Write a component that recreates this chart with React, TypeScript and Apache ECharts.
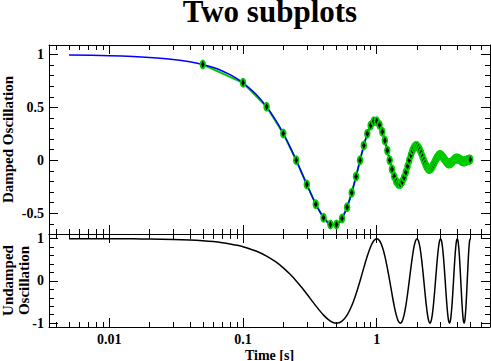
import React, { useEffect, useRef } from 'react';
import * as echarts from 'echarts';

const TITLE = 'Two subplots';
const X_NAME = 'Time [s]';
const Y_TOP_NAME = 'Damped Oscillation';
const Y_BOTTOM_NAME = 'Undamped\nOscillation';

// sample times of the continuous curves (s)
const lineTime = [
  0.005, 0.01, 0.015, 0.02, 0.03, 0.04, 0.05, 0.06, 0.07, 0.08, 0.09, 0.1,
  0.125, 0.15, 0.175, 0.2, 0.225, 0.25, 0.275, 0.3,
  0.35, 0.4, 0.45, 0.5, 0.55, 0.6, 0.65, 0.7, 0.75, 0.8, 0.85, 0.9, 0.95, 1.0,
  1.05, 1.1, 1.15, 1.2, 1.25, 1.3, 1.35, 1.4, 1.45, 1.5, 1.55, 1.6, 1.65, 1.7, 1.75, 1.8, 1.85, 1.9, 1.95, 2.0,
  2.05, 2.1, 2.15, 2.2, 2.25, 2.3, 2.35, 2.4, 2.45, 2.5, 2.55, 2.6, 2.65, 2.7, 2.75, 2.8, 2.85, 2.9, 2.95, 3.0,
  3.05, 3.1, 3.15, 3.2, 3.25, 3.3, 3.35, 3.4, 3.45, 3.5, 3.55, 3.6, 3.65, 3.7, 3.75, 3.8, 3.85, 3.9, 3.95, 4.0,
  4.05, 4.1, 4.15, 4.2, 4.25, 4.3, 4.35, 4.4, 4.45, 4.5, 4.55, 4.6, 4.65, 4.7, 4.75, 4.8, 4.85, 4.9, 4.95, 5.0,
];

// damped oscillation curve (blue)
const dampedLine = [
  0.995, 0.988, 0.981, 0.972, 0.953, 0.931, 0.905, 0.876, 0.844, 0.809, 0.772, 0.732,
  0.624, 0.506, 0.381, 0.253, 0.125, 0, -0.119, -0.229,
  -0.414, -0.542, -0.606, -0.607, -0.549, -0.444, -0.307, -0.153, 0, 0.139, 0.251, 0.329, 0.368, 0.368,
  0.333, 0.269, 0.186, 0.093, 0, -0.084, -0.152, -0.2, -0.223, -0.223, -0.202, -0.163, -0.113, -0.057, 0, 0.051, 0.092, 0.121, 0.135, 0.135,
  0.122, 0.099, 0.069, 0.034, 0, -0.031, -0.056, -0.073, -0.082, -0.082, -0.074, -0.06, -0.042, -0.021, 0, 0.019, 0.034, 0.045, 0.05, 0.05,
  0.045, 0.036, 0.025, 0.013, 0, -0.011, -0.021, -0.027, -0.03, -0.03, -0.027, -0.022, -0.015, -0.008, 0, 0.007, 0.013, 0.016, 0.018, 0.018,
  0.017, 0.013, 0.009, 0.005, 0, -0.004, -0.008, -0.01, -0.011, -0.011, -0.01, -0.008, -0.006, -0.003, 0, 0.002, 0.005, 0.006, 0.007, 0.007,
];

// undamped oscillation curve (black)
const undampedLine = [
  0.999, 0.998, 0.996, 0.992, 0.982, 0.969, 0.951, 0.93, 0.905, 0.876, 0.844, 0.809,
  0.707, 0.588, 0.454, 0.309, 0.156, 0, -0.156, -0.309,
  -0.588, -0.809, -0.951, -1, -0.951, -0.809, -0.588, -0.309, 0, 0.309, 0.588, 0.809, 0.951, 1,
  0.951, 0.809, 0.588, 0.309, 0, -0.309, -0.588, -0.809, -0.951, -1, -0.951, -0.809, -0.588, -0.309, 0, 0.309, 0.588, 0.809, 0.951, 1,
  0.951, 0.809, 0.588, 0.309, 0, -0.309, -0.588, -0.809, -0.951, -1, -0.951, -0.809, -0.588, -0.309, 0, 0.309, 0.588, 0.809, 0.951, 1,
  0.951, 0.809, 0.588, 0.309, 0, -0.309, -0.588, -0.809, -0.951, -1, -0.951, -0.809, -0.588, -0.309, 0, 0.309, 0.588, 0.809, 0.951, 1,
  0.951, 0.809, 0.588, 0.309, 0, -0.309, -0.588, -0.809, -0.951, -1, -0.951, -0.809, -0.588, -0.309, 0, 0.309, 0.588, 0.809, 0.951, 1,
];

// measured points (green markers with black symbols)
const markerTime = [
  0.05, 0.1, 0.15, 0.2, 0.25, 0.3, 0.35, 0.4, 0.45, 0.5, 0.55, 0.6, 0.65, 0.7, 0.75, 0.8, 0.85, 0.9, 0.95, 1.0,
  1.05, 1.1, 1.15, 1.2, 1.25, 1.3, 1.35, 1.4, 1.45, 1.5, 1.55, 1.6, 1.65, 1.7, 1.75, 1.8, 1.85, 1.9, 1.95, 2.0,
  2.05, 2.1, 2.15, 2.2, 2.25, 2.3, 2.35, 2.4, 2.45, 2.5, 2.55, 2.6, 2.65, 2.7, 2.75, 2.8, 2.85, 2.9, 2.95, 3.0,
  3.05, 3.1, 3.15, 3.2, 3.25, 3.3, 3.35, 3.4, 3.45, 3.5, 3.55, 3.6, 3.65, 3.7, 3.75, 3.8, 3.85, 3.9, 3.95, 4.0,
  4.05, 4.1, 4.15, 4.2, 4.25, 4.3, 4.35, 4.4, 4.45, 4.5, 4.55, 4.6, 4.65, 4.7, 4.75, 4.8, 4.85, 4.9, 4.95, 5.0,
];
const markerDamped = [
  0.905, 0.732, 0.506, 0.253, 0, -0.229, -0.414, -0.542, -0.606, -0.607, -0.549, -0.444, -0.307, -0.153, 0, 0.139, 0.251, 0.329, 0.368, 0.368,
  0.333, 0.269, 0.186, 0.093, 0, -0.084, -0.152, -0.2, -0.223, -0.223, -0.202, -0.163, -0.113, -0.057, 0, 0.051, 0.092, 0.121, 0.135, 0.135,
  0.122, 0.099, 0.069, 0.034, 0, -0.031, -0.056, -0.073, -0.082, -0.082, -0.074, -0.06, -0.042, -0.021, 0, 0.019, 0.034, 0.045, 0.05, 0.05,
  0.045, 0.036, 0.025, 0.013, 0, -0.011, -0.021, -0.027, -0.03, -0.03, -0.027, -0.022, -0.015, -0.008, 0, 0.007, 0.013, 0.016, 0.018, 0.018,
  0.017, 0.013, 0.009, 0.005, 0, -0.004, -0.008, -0.01, -0.011, -0.011, -0.01, -0.008, -0.006, -0.003, 0, 0.002, 0.005, 0.006, 0.007, 0.007,
];

const xMajorTicks = [0.01, 0.1, 1];
const xMinorTicks = [
  0.004, 0.005, 0.006, 0.007, 0.008, 0.009,
  0.02, 0.03, 0.04, 0.05, 0.06, 0.07, 0.08, 0.09,
  0.2, 0.3, 0.4, 0.5, 0.6, 0.7, 0.8, 0.9,
  2, 3, 4, 5, 6, 7,
];
const topMajorTicks = [-0.5, 0, 0.5, 1];
const topMinorTicks = [-0.6, -0.4, -0.3, -0.2, -0.1, 0.1, 0.2, 0.3, 0.4, 0.6, 0.7, 0.8, 0.9];
const bottomMajorTicks = [-1, 0, 1];
const bottomMinorTicks = [-0.8, -0.6, -0.4, -0.2, 0.2, 0.4, 0.6, 0.8];

const X_MIN = 0.00354;
const X_MAX = 7.03;
const TOP_MIN = -0.696;
const TOP_MAX = 1.089;
const BOT_MIN = -1.09;
const BOT_MAX = 1.11;

const FONT = '"Liberation Serif", "Times New Roman", serif';
const GREEN = '#00cc00';
const BLUE = '#0000ff';

function makeXAxes(grid: number, withLabels: boolean) {
  const base = {
    gridIndex: grid,
    type: 'log',
    logBase: 10,
    min: X_MIN,
    max: X_MAX,
    splitLine: { show: false },
    minorTick: { show: false },
    minorSplitLine: { show: false },
  };
  const major = (position: string, labels: boolean) => ({
    ...base,
    position,
    axisLine: { show: true, onZero: false, lineStyle: { color: '#000', width: 1 } },
    axisTick: { show: true, inside: true, length: 9, customValues: xMajorTicks, lineStyle: { color: '#000', width: 1 } },
    axisLabel: labels
      ? {
          show: true,
          customValues: xMajorTicks,
          margin: 5,
          fontFamily: FONT,
          fontWeight: 'bold',
          fontSize: 14,
          color: '#000',
          formatter: (v: number) => String(v),
        }
      : { show: false },
    ...(labels
      ? {
          name: X_NAME,
          nameLocation: 'middle',
          nameGap: 21,
          nameMoveOverlap: false,
          nameTextStyle: { fontFamily: FONT, fontWeight: 'bold', fontSize: 14, color: '#000' },
        }
      : {}),
  });
  const minor = (position: string) => ({
    ...base,
    position,
    axisLine: { show: false, onZero: false },
    axisTick: { show: true, inside: true, length: 5, customValues: xMinorTicks, lineStyle: { color: '#000', width: 1 } },
    axisLabel: { show: false },
  });
  return [major('bottom', withLabels), minor('bottom'), major('top', false), minor('top')];
}

function makeYAxes(
  grid: number,
  min: number,
  max: number,
  majorTicks: number[],
  minorTicks: number[],
  name: string,
  nameGap: number,
) {
  const base = {
    gridIndex: grid,
    type: 'value',
    min,
    max,
    splitLine: { show: false },
    minorTick: { show: false },
  };
  const major = (position: string, labels: boolean) => ({
    ...base,
    position,
    axisLine: { show: true, onZero: false, lineStyle: { color: '#000', width: 1 } },
    axisTick: { show: true, inside: true, length: 9, customValues: majorTicks, lineStyle: { color: '#000', width: 1 } },
    axisLabel: labels
      ? {
          show: true,
          customValues: majorTicks,
          margin: 5,
          fontFamily: FONT,
          fontWeight: 'bold',
          fontSize: 14,
          color: '#000',
          formatter: (v: number) => String(v),
        }
      : { show: false },
    ...(labels
      ? {
          name,
          nameLocation: 'middle',
          nameGap,
          nameMoveOverlap: false,
          nameTextStyle: { fontFamily: FONT, fontWeight: 'bold', fontSize: 15, lineHeight: 16, color: '#000' },
        }
      : {}),
  });
  const minor = (position: string) => ({
    ...base,
    position,
    axisLine: { show: false, onZero: false },
    axisTick: { show: true, inside: true, length: 5, customValues: minorTicks, lineStyle: { color: '#000', width: 1 } },
    axisLabel: { show: false },
  });
  return [major('left', true), minor('left'), major('right', false), minor('right')];
}

export default function App() {
  const ref = useRef<HTMLDivElement>(null);

  useEffect(() => {
    if (!ref.current) return;
    const chart = echarts.init(ref.current, null, { renderer: 'svg' });

    const curveTop = lineTime.map((t, i) => [t, dampedLine[i]]);
    const curveBottom = lineTime.map((t, i) => [t, undampedLine[i]]);
    const points = markerTime.map((t, i) => [t, markerDamped[i]]);

    const option: any = {
      animation: false,
      backgroundColor: '#fff',
      title: {
        text: TITLE,
        left: 270,
        top: 0,
        padding: 0,
        textAlign: 'center',
        textStyle: { fontFamily: FONT, fontWeight: 'bold', fontSize: 31, lineHeight: 22, color: '#000' },
      },
      grid: [
        { left: 49, top: 45, width: 441, height: 189, outerBoundsMode: 'none', containLabel: false },
        { left: 49, top: 234, width: 441, height: 93, outerBoundsMode: 'none', containLabel: false },
      ],
      xAxis: [...makeXAxes(0, false), ...makeXAxes(1, true)],
      yAxis: [
        ...makeYAxes(0, TOP_MIN, TOP_MAX, topMajorTicks, topMinorTicks, Y_TOP_NAME, 33),
        ...makeYAxes(1, BOT_MIN, BOT_MAX, bottomMajorTicks, bottomMinorTicks, Y_BOTTOM_NAME, 17),
      ],
      series: [
        {
          type: 'line',
          xAxisIndex: 0,
          yAxisIndex: 0,
          data: points,
          symbol: 'none',
          lineStyle: { color: GREEN, width: 2 },
          z: 2,
        },
        {
          type: 'line',
          xAxisIndex: 0,
          yAxisIndex: 0,
          data: curveTop,
          symbol: 'none',
          smooth: 0.3,
          lineStyle: { color: BLUE, width: 1.5 },
          z: 3,
        },
        {
          type: 'custom',
          xAxisIndex: 0,
          yAxisIndex: 0,
          data: points,
          z: 4,
          renderItem: (params: any, api: any) => {
            const p = api.coord([api.value(0), api.value(1)]);
            const x = p[0];
            const y = p[1];
            return {
              type: 'group',
              children: [
                { type: 'ellipse', shape: { cx: x, cy: y, rx: 3.2, ry: 5 }, style: { fill: GREEN } },
                {
                  type: 'polygon',
                  shape: { points: [[x, y - 3.5], [x + 1.8, y], [x, y + 3.5], [x - 1.8, y]] },
                  style: { fill: '#000' },
                },
              ],
            };
          },
        },
        {
          type: 'line',
          xAxisIndex: 4,
          yAxisIndex: 4,
          data: curveBottom,
          symbol: 'none',
          smooth: 0.3,
          lineStyle: { color: '#000', width: 1.5 },
          z: 3,
        },
      ],
    };

    chart.setOption(option);
    return () => chart.dispose();
  }, []);

  return (
    <div
      ref={ref}
      style={{ position: 'fixed', left: 0, top: 0, width: 491, height: 361, background: '#fff' }}
    />
  );
}
